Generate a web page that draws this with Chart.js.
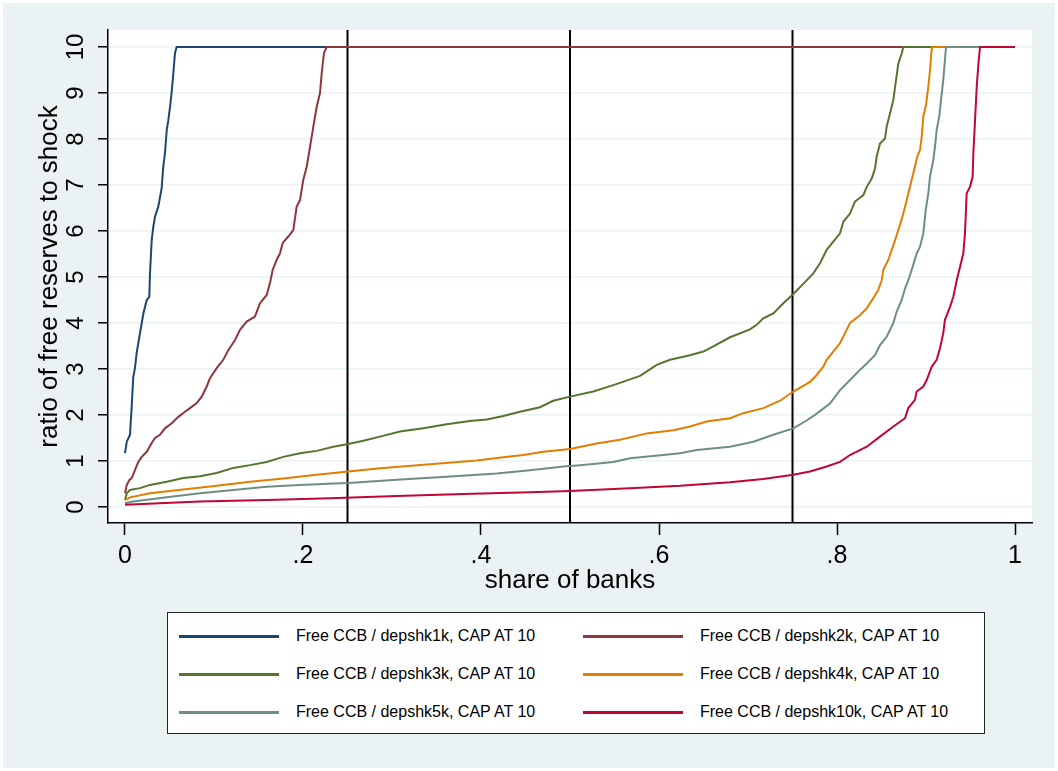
<!DOCTYPE html>
<html>
<head>
<meta charset="utf-8">
<script src="https://cdn.jsdelivr.net/npm/chart.js@4.4.1/dist/chart.umd.min.js"></script>
<style>
  body { margin: 0; background: #fff; }
  #wrap { position: absolute; left: 3px; top: 3px; width: 1052px; height: 765px; background: #eaf2f3; }
  #chart { position: absolute; left: 0; top: 0; }
  #legend { position: absolute; left: 164px; top: 609px; width: 816px; height: 120px; background: #fff; border: 1.5px solid #222;
            font-family: 'Liberation Sans', Arial, sans-serif; font-size: 16px; color: #000; }
  .item { position: absolute; height: 20px; }
  .item span.line { position: absolute; left: 0; top: 9px; width: 100px; height: 2.5px; }
  .item span.txt { position: absolute; left: 117px; top: 0; line-height: 20px; white-space: nowrap; }
</style>
</head>
<body>
<div id="wrap">
  <canvas id="chart" width="1052" height="765"></canvas>
  <div id="legend"></div>
</div>
<script>
// share of banks (x) and ratio of free reserves to shock (y)
var share1k = [0, 0.002, 0.0056, 0.0075, 0.0093, 0.0112, 0.0131, 0.0149, 0.0188, 0.0206, 0.0244, 0.0273, 0.0281, 0.030, 0.0318, 0.0337, 0.0374, 0.0412, 0.043, 0.0449, 0.0469, 0.0487, 0.0506, 0.0525, 0.0543, 0.0562, 0.058, 1];
var ratio1k = [1.17, 1.42, 1.57, 2.18, 2.83, 3.02, 3.35, 3.56, 4.0, 4.2, 4.5, 4.57, 5.08, 5.8, 6.09, 6.31, 6.53, 6.93, 7.4, 7.69, 8.2, 8.41, 8.7, 9.03, 9.43, 9.87, 10, 10];

var share2k = [0, 0.002, 0.005, 0.0075, 0.0112, 0.0149, 0.0188, 0.0244, 0.030, 0.0337, 0.0393, 0.0449, 0.0525, 0.0599, 0.0674, 0.073, 0.0806, 0.0862, 0.0918, 0.0955, 0.103, 0.1104, 0.1161, 0.1236, 0.1292, 0.1367, 0.146, 0.1517, 0.1592, 0.1629, 0.1659, 0.1704, 0.1742, 0.1772, 0.1835, 0.1891, 0.1929, 0.1966, 0.2003, 0.2042, 0.2079, 0.2116, 0.2154, 0.2191, 0.221, 0.2236, 0.2266, 1];
var ratio2k = [0.3, 0.48, 0.59, 0.63, 0.8, 0.98, 1.09, 1.2, 1.39, 1.5, 1.57, 1.71, 1.82, 1.96, 2.07, 2.15, 2.26, 2.4, 2.62, 2.8, 3.02, 3.2, 3.41, 3.63, 3.85, 4.03, 4.14, 4.43, 4.61, 4.87, 5.15, 5.37, 5.52, 5.74, 5.88, 6.02, 6.53, 6.67, 7.11, 7.4, 7.83, 8.27, 8.7, 9.0, 9.43, 9.87, 10, 10];

var share3k = [0, 0.002, 0.0056, 0.0169, 0.0281, 0.0469, 0.0655, 0.0843, 0.103, 0.1217, 0.1404, 0.1592, 0.1779, 0.1966, 0.2154, 0.234, 0.2509, 0.2678, 0.2865, 0.309, 0.3352, 0.3615, 0.3876, 0.4064, 0.4251, 0.4438, 0.4663, 0.4812, 0.5, 0.5262, 0.5487, 0.5787, 0.5974, 0.6124, 0.6348, 0.6498, 0.661, 0.6798, 0.7022, 0.7098, 0.7172, 0.7284, 0.7397, 0.7509, 0.7621, 0.7734, 0.7809, 0.7884, 0.7958, 0.8034, 0.8071, 0.8146, 0.8202, 0.8296, 0.8334, 0.839, 0.8427, 0.8446, 0.8483, 0.8539, 0.8558, 0.8596, 0.8633, 0.8663, 0.8689, 0.8727, 0.8745, 1];
var ratio3k = [0.15, 0.3, 0.37, 0.41, 0.48, 0.55, 0.63, 0.67, 0.74, 0.85, 0.91, 0.98, 1.09, 1.17, 1.22, 1.31, 1.37, 1.44, 1.53, 1.64, 1.71, 1.8, 1.87, 1.9, 1.98, 2.07, 2.17, 2.31, 2.4, 2.51, 2.65, 2.85, 3.09, 3.2, 3.3, 3.38, 3.49, 3.69, 3.86, 3.96, 4.1, 4.21, 4.43, 4.63, 4.85, 5.08, 5.3, 5.59, 5.77, 5.95, 6.2, 6.38, 6.64, 6.78, 6.96, 7.14, 7.36, 7.62, 7.9, 8.01, 8.27, 8.56, 8.85, 9.28, 9.64, 9.86, 10, 10];

var share4k = [0, 0.0056, 0.0281, 0.0655, 0.103, 0.1404, 0.1779, 0.2154, 0.2509, 0.2865, 0.3427, 0.3952, 0.4251, 0.4475, 0.47, 0.5, 0.53, 0.5562, 0.5862, 0.6161, 0.6348, 0.6536, 0.6798, 0.6947, 0.7172, 0.736, 0.7509, 0.7697, 0.7772, 0.7846, 0.7884, 0.7958, 0.8034, 0.809, 0.8146, 0.8258, 0.8334, 0.8408, 0.8464, 0.8502, 0.852, 0.8576, 0.8615, 0.8652, 0.87, 0.8745, 0.8783, 0.882, 0.8857, 0.8902, 0.8933, 0.8952, 0.897, 0.9, 0.9026, 0.9045, 0.9064, 0.9067, 1];
var ratio4k = [0.15, 0.21, 0.3, 0.38, 0.46, 0.55, 0.62, 0.7, 0.77, 0.84, 0.93, 1.01, 1.08, 1.13, 1.2, 1.26, 1.38, 1.46, 1.6, 1.67, 1.75, 1.86, 1.93, 2.04, 2.15, 2.31, 2.51, 2.72, 2.87, 3.05, 3.2, 3.38, 3.56, 3.78, 4.0, 4.17, 4.32, 4.54, 4.72, 4.93, 5.15, 5.37, 5.59, 5.8, 6.09, 6.38, 6.67, 6.96, 7.25, 7.62, 7.76, 8.05, 8.49, 8.74, 9.14, 9.5, 9.96, 10, 10];

var share5k = [0, 0.0093, 0.0469, 0.0843, 0.1217, 0.1592, 0.1966, 0.234, 0.2509, 0.3053, 0.3615, 0.4176, 0.4551, 0.4925, 0.5112, 0.5487, 0.5674, 0.6048, 0.6236, 0.6424, 0.6798, 0.706, 0.7284, 0.7509, 0.7659, 0.7772, 0.7921, 0.8034, 0.8146, 0.8258, 0.8334, 0.8427, 0.8483, 0.8558, 0.8633, 0.8671, 0.8727, 0.8764, 0.8801, 0.885, 0.8895, 0.8933, 0.897, 0.8997, 0.9026, 0.9045, 0.9082, 0.9101, 0.912, 0.9149, 0.9169, 0.9194, 0.9213, 0.9225, 1];
var ratio5k = [0.08, 0.12, 0.21, 0.3, 0.37, 0.44, 0.48, 0.51, 0.52, 0.59, 0.66, 0.73, 0.8, 0.88, 0.91, 0.98, 1.06, 1.13, 1.17, 1.24, 1.31, 1.42, 1.57, 1.71, 1.88, 2.03, 2.25, 2.54, 2.76, 2.98, 3.12, 3.3, 3.52, 3.7, 4.0, 4.25, 4.5, 4.75, 4.93, 5.22, 5.51, 5.66, 5.95, 6.46, 6.82, 7.18, 7.54, 7.83, 8.2, 8.49, 8.85, 9.28, 9.72, 10, 10];

var share10k = [0, 0.0843, 0.1592, 0.2303, 0.3053, 0.3801, 0.4551, 0.5, 0.5674, 0.6236, 0.6798, 0.7172, 0.7509, 0.7697, 0.7884, 0.8034, 0.8146, 0.8334, 0.8483, 0.8633, 0.8764, 0.8801, 0.8876, 0.8895, 0.897, 0.9008, 0.9064, 0.912, 0.9157, 0.9194, 0.9213, 0.927, 0.9307, 0.9345, 0.9382, 0.9419, 0.9438, 0.9457, 0.9494, 0.9524, 0.9532, 0.9551, 0.957, 0.9589, 0.9607, 1];
var ratio10k = [0.05, 0.12, 0.15, 0.19, 0.24, 0.28, 0.32, 0.35, 0.41, 0.46, 0.54, 0.61, 0.7, 0.77, 0.88, 0.98, 1.13, 1.31, 1.53, 1.75, 1.93, 2.15, 2.33, 2.51, 2.62, 2.76, 3.05, 3.2, 3.45, 3.78, 4.07, 4.35, 4.57, 4.93, 5.22, 5.51, 5.95, 6.82, 6.96, 7.18, 7.69, 8.41, 9.14, 9.64, 10, 10];

var seriesLabels = [
    'Free CCB / depshk1k, CAP AT 10', 'Free CCB / depshk2k, CAP AT 10',
    'Free CCB / depshk3k, CAP AT 10', 'Free CCB / depshk4k, CAP AT 10',
    'Free CCB / depshk5k, CAP AT 10', 'Free CCB / depshk10k, CAP AT 10'
];
var xTicks = [0, 0.2, 0.4, 0.6, 0.8, 1];
var xTickLabels = ['0', '.2', '.4', '.6', '.8', '1'];
var yTicks = [0, 1, 2, 3, 4, 5, 6, 7, 8, 9, 10];
var quartileLines = [0.25, 0.5, 0.75];

var colors = ['#1a476f', '#90353b', '#55752f', '#e37e00', '#6e8e84', '#c10534'];
var shares = [share1k, share2k, share3k, share4k, share5k, share10k];
var ratios = [ratio1k, ratio2k, ratio3k, ratio4k, ratio5k, ratio10k];

function toPoints(xs, ys) {
    var pts = [];
    for (var i = 0; i < xs.length; i++) pts.push({x: xs[i], y: ys[i]});
    return pts;
}

var datasets = [];
for (var i = 0; i < shares.length; i++) {
    datasets.push({
        label: seriesLabels[i],
        data: toPoints(shares[i], ratios[i]),
        borderColor: colors[i],
        backgroundColor: colors[i],
        borderWidth: 2,
        pointRadius: 0,
        tension: 0,
        order: shares.length - i   // later series drawn on top, like Stata
    });
}

Chart.defaults.font.family = "'Liberation Sans', Arial, sans-serif";
Chart.defaults.color = '#000';

// white plot region + vertical reference lines
var plotBits = {
    id: 'plotBits',
    beforeDraw: function(chart) {
        var a = chart.chartArea, ctx = chart.ctx;
        ctx.save();
        ctx.fillStyle = '#fff';
        ctx.fillRect(a.left, a.top, a.right - a.left, a.bottom - a.top);
        ctx.restore();
    },
    beforeDatasetsDraw: function(chart) {
        var a = chart.chartArea, ctx = chart.ctx, xs = chart.scales.x;
        ctx.save();
        ctx.strokeStyle = '#000';
        ctx.lineWidth = 2;
        quartileLines.forEach(function(v) {
            var px = xs.getPixelForValue(v);
            ctx.beginPath();
            ctx.moveTo(px, a.top);
            ctx.lineTo(px, a.bottom);
            ctx.stroke();
        });
        ctx.restore();
    }
};

var ctx = document.getElementById('chart').getContext('2d');
var chart = new Chart(ctx, {
    type: 'line',
    data: { datasets: datasets },
    options: {
        responsive: false,
        animation: false,
        layout: { padding: { left: 0, right: 23, top: 27, bottom: 165 } },
        plugins: { legend: { display: false }, tooltip: { enabled: false } },
        scales: {
            x: {
                type: 'linear',
                min: -0.0191,
                max: 1.0191,
                afterBuildTicks: function(s) { s.ticks = xTicks.map(function(v) { return {value: v}; }); },
                afterFit: function(s) { s.height = 80; },
                ticks: {
                    font: { size: 25 },
                    padding: 6,
                    maxRotation: 0,
                    autoSkip: false,
                    callback: function(v, i) { return xTickLabels[i]; }
                },
                grid: { display: true, drawOnChartArea: false, drawTicks: true, tickLength: 12, tickColor: '#000', tickWidth: 1.5 },
                border: { display: true, color: '#000', width: 1.5 },
                title: { display: true, text: 'share of banks', font: { size: 26 }, padding: { top: 0, bottom: 7 } }
            },
            y: {
                type: 'linear',
                min: -0.348,
                max: 10.37,
                afterBuildTicks: function(s) { s.ticks = yTicks.map(function(v) { return {value: v}; }); },
                afterFit: function(s) { s.width = 105; },
                ticks: {
                    font: { size: 24 },
                    padding: 8,
                    minRotation: 90,
                    maxRotation: 90,
                    crossAlign: 'center',
                    autoSkip: false
                },
                grid: { display: true, drawOnChartArea: true, color: '#eaf2f3', lineWidth: 1.5, drawTicks: true, tickLength: 10, tickColor: '#000', tickWidth: 1.5 },
                border: { display: true, color: '#000', width: 1.5 },
                title: { display: true, text: 'ratio of free reserves to shock', font: { size: 26 }, padding: { top: 31, bottom: 0 } }
            }
        }
    },
    plugins: [plotBits]
});

// legend box laid out like Stata's two-column legend
var legend = document.getElementById('legend');
chart.data.datasets.forEach(function(ds, i) {
    var col = i % 2, row = Math.floor(i / 2);
    var item = document.createElement('div');
    item.className = 'item';
    item.style.left = (11 + col * 404) + 'px';
    item.style.top = (13 + row * 38) + 'px';
    item.innerHTML = '<span class="line" style="background:' + ds.borderColor + '"></span><span class="txt">' + ds.label + '</span>';
    legend.appendChild(item);
});
</script>
</body>
</html>
